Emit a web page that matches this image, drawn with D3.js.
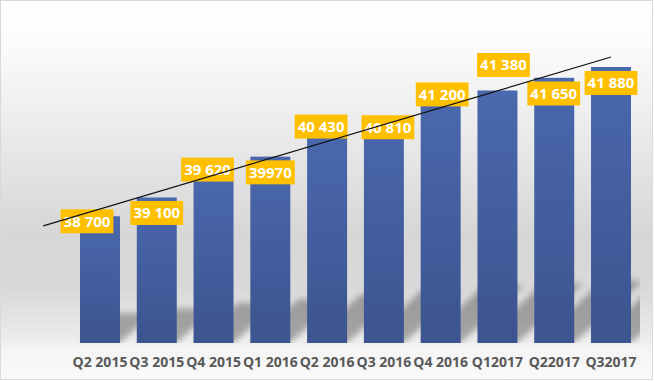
<!DOCTYPE html>
<html>
<head>
<meta charset="utf-8">
<script src="https://cdn.jsdelivr.net/npm/d3@7"></script>
<style>
  html, body { margin: 0; padding: 0; background: #fff; }
  svg { display: block; }
</style>
</head>
<body>
<svg id="chart" width="655" height="381"></svg>
<script>
// ---- data ----
const categories = ["Q2 2015","Q3 2015","Q4 2015","Q1 2016","Q2 2016","Q3 2016","Q4 2016","Q12017","Q22017","Q32017"];
const values = [38700, 39100, 39620, 39970, 40430, 40810, 41200, 41380, 41650, 41880];
const valueLabels = ["38 700","39 100","39 620","39970","40 430","40 810","41 200","41 380","41 650","41 880"];
// manual label nudges (layout, px) as placed in the original
const labelDx = [-13, 0, -6, 0, -6, 4, 1.5, 6, -0.5, 0];
const labelDy = [5, 15.5, -3.5, 15.7, -8.5, 10, -4.5, -25.5, 15.7, 16];

const W = 655, H = 381;
const svg = d3.select("#chart");
const defs = svg.append("defs");

// background gradient
const bg = defs.append("linearGradient").attr("id","bg").attr("x1",0).attr("y1",0).attr("x2",0).attr("y2",1);
[[0,"#ffffff"],[0.12,"#fbfbfb"],[0.45,"#e3e3e3"],[0.62,"#d6d6d6"],[0.76,"#d9d9d9"],[0.88,"#eaeaea"],[0.92,"#f4f4f4"],[1,"#fafafa"]]
  .forEach(([o,c]) => bg.append("stop").attr("offset",o).attr("stop-color",c));

// bar gradient
const bgBar = defs.append("linearGradient").attr("id","barGrad").attr("x1",0).attr("y1",0).attr("x2",0).attr("y2",1);
bgBar.append("stop").attr("offset",0).attr("stop-color","#4a68ae");
bgBar.append("stop").attr("offset",1).attr("stop-color","#3c548f");

// shadow blur
defs.append("filter").attr("id","blur").attr("x","-20%").attr("y","-20%").attr("width","140%").attr("height","140%")
  .append("feGaussianBlur").attr("stdDeviation", 3);

svg.append("rect").attr("x",0.5).attr("y",0.5).attr("width",652).attr("height",379)
  .attr("fill","url(#bg)").attr("stroke","#d9d9d9").attr("stroke-width",1);

// scales
const x = d3.scaleBand().domain(categories).range([71.6, 639.4]).paddingInner(0.296).paddingOuter(0.148);
const y = d3.scaleLinear().domain([36000, 42000]).range([343, 61.36]);
const bw = x.bandwidth();
const cx = i => x(categories[i]) + bw / 2;

// clip for shadows
defs.append("clipPath").attr("id","plotClip").append("rect")
  .attr("x", 60).attr("y", 40).attr("width", 640 - 60).attr("height", 343 - 40);

// perspective shadows
const shadowG = svg.append("g").attr("clip-path","url(#plotClip)");
shadowG.append("g").attr("filter","url(#blur)")
  .selectAll("path").data(values).join("path")
  .attr("d", (v, i) => {
    const x0 = x(categories[i]), x1 = x0 + bw;
    const h = y(36000) - y(v);
    const sh = h * 0.235, s = sh * 1.1;
    const b = y(36000);
    return `M${x0},${b}L${x1},${b}L${x1 + s},${b - sh}L${x0 + s},${b - sh}Z`;
  })
  .attr("fill","#000").attr("opacity",0.3);

// bars
svg.append("g").selectAll("rect").data(values).join("rect")
  .attr("x", (v, i) => x(categories[i]))
  .attr("y", v => y(v))
  .attr("width", bw)
  .attr("height", v => y(36000) - y(v))
  .attr("fill", "url(#barGrad)");

// linear trendline (least squares), backward forecast 1 period
const n = values.length;
const xs = d3.range(n);
const mx = d3.mean(xs), my = d3.mean(values);
const slope = d3.sum(xs, i => (i - mx) * (values[i] - my)) / d3.sum(xs, i => (i - mx) ** 2);
const icpt = my - slope * mx;
const step = x.step();
const trendPts = [-1, n - 1].map(i => [cx(0) + i * step, y(icpt + slope * i)]);

// x-axis labels
const axisG = svg.append("g").attr("transform", `translate(0,367)`);
axisG.call(d3.axisBottom(x).tickSize(0).tickPadding(0))
  .call(g => g.select(".domain").remove());
axisG.selectAll("text")
  .attr("y", 0).attr("dy", 0)
  .attr("font-family", "'Open Sans', sans-serif")
  .attr("font-weight", 700)
  .attr("font-size", "14px")
  .attr("fill", "#595959");

// data labels
const labG = svg.append("g").selectAll("g").data(values).join("g")
  .attr("transform", (v, i) => `translate(${cx(i) + labelDx[i]},${y(v) + labelDy[i]})`);
const boxes = labG.append("rect").attr("fill", "#ffc000");
const texts = labG.append("text")
  .text((v, i) => valueLabels[i])
  .attr("text-anchor", "middle")
  .attr("y", 5.4)
  .attr("font-family", "'Open Sans', sans-serif")
  .attr("font-weight", 700)
  .attr("font-size", "15px")
  .attr("fill", "#ffffff");
texts.each(function (d, i) {
  const w = this.getComputedTextLength() + 6;
  d3.select(boxes.nodes()[i]).attr("x", -w / 2).attr("y", -12).attr("width", w).attr("height", 24);
});

// trendline on top
svg.append("path")
  .attr("d", d3.line()(trendPts))
  .attr("fill", "none").attr("stroke", "#111").attr("stroke-width", 1.2);
</script>
</body>
</html>
